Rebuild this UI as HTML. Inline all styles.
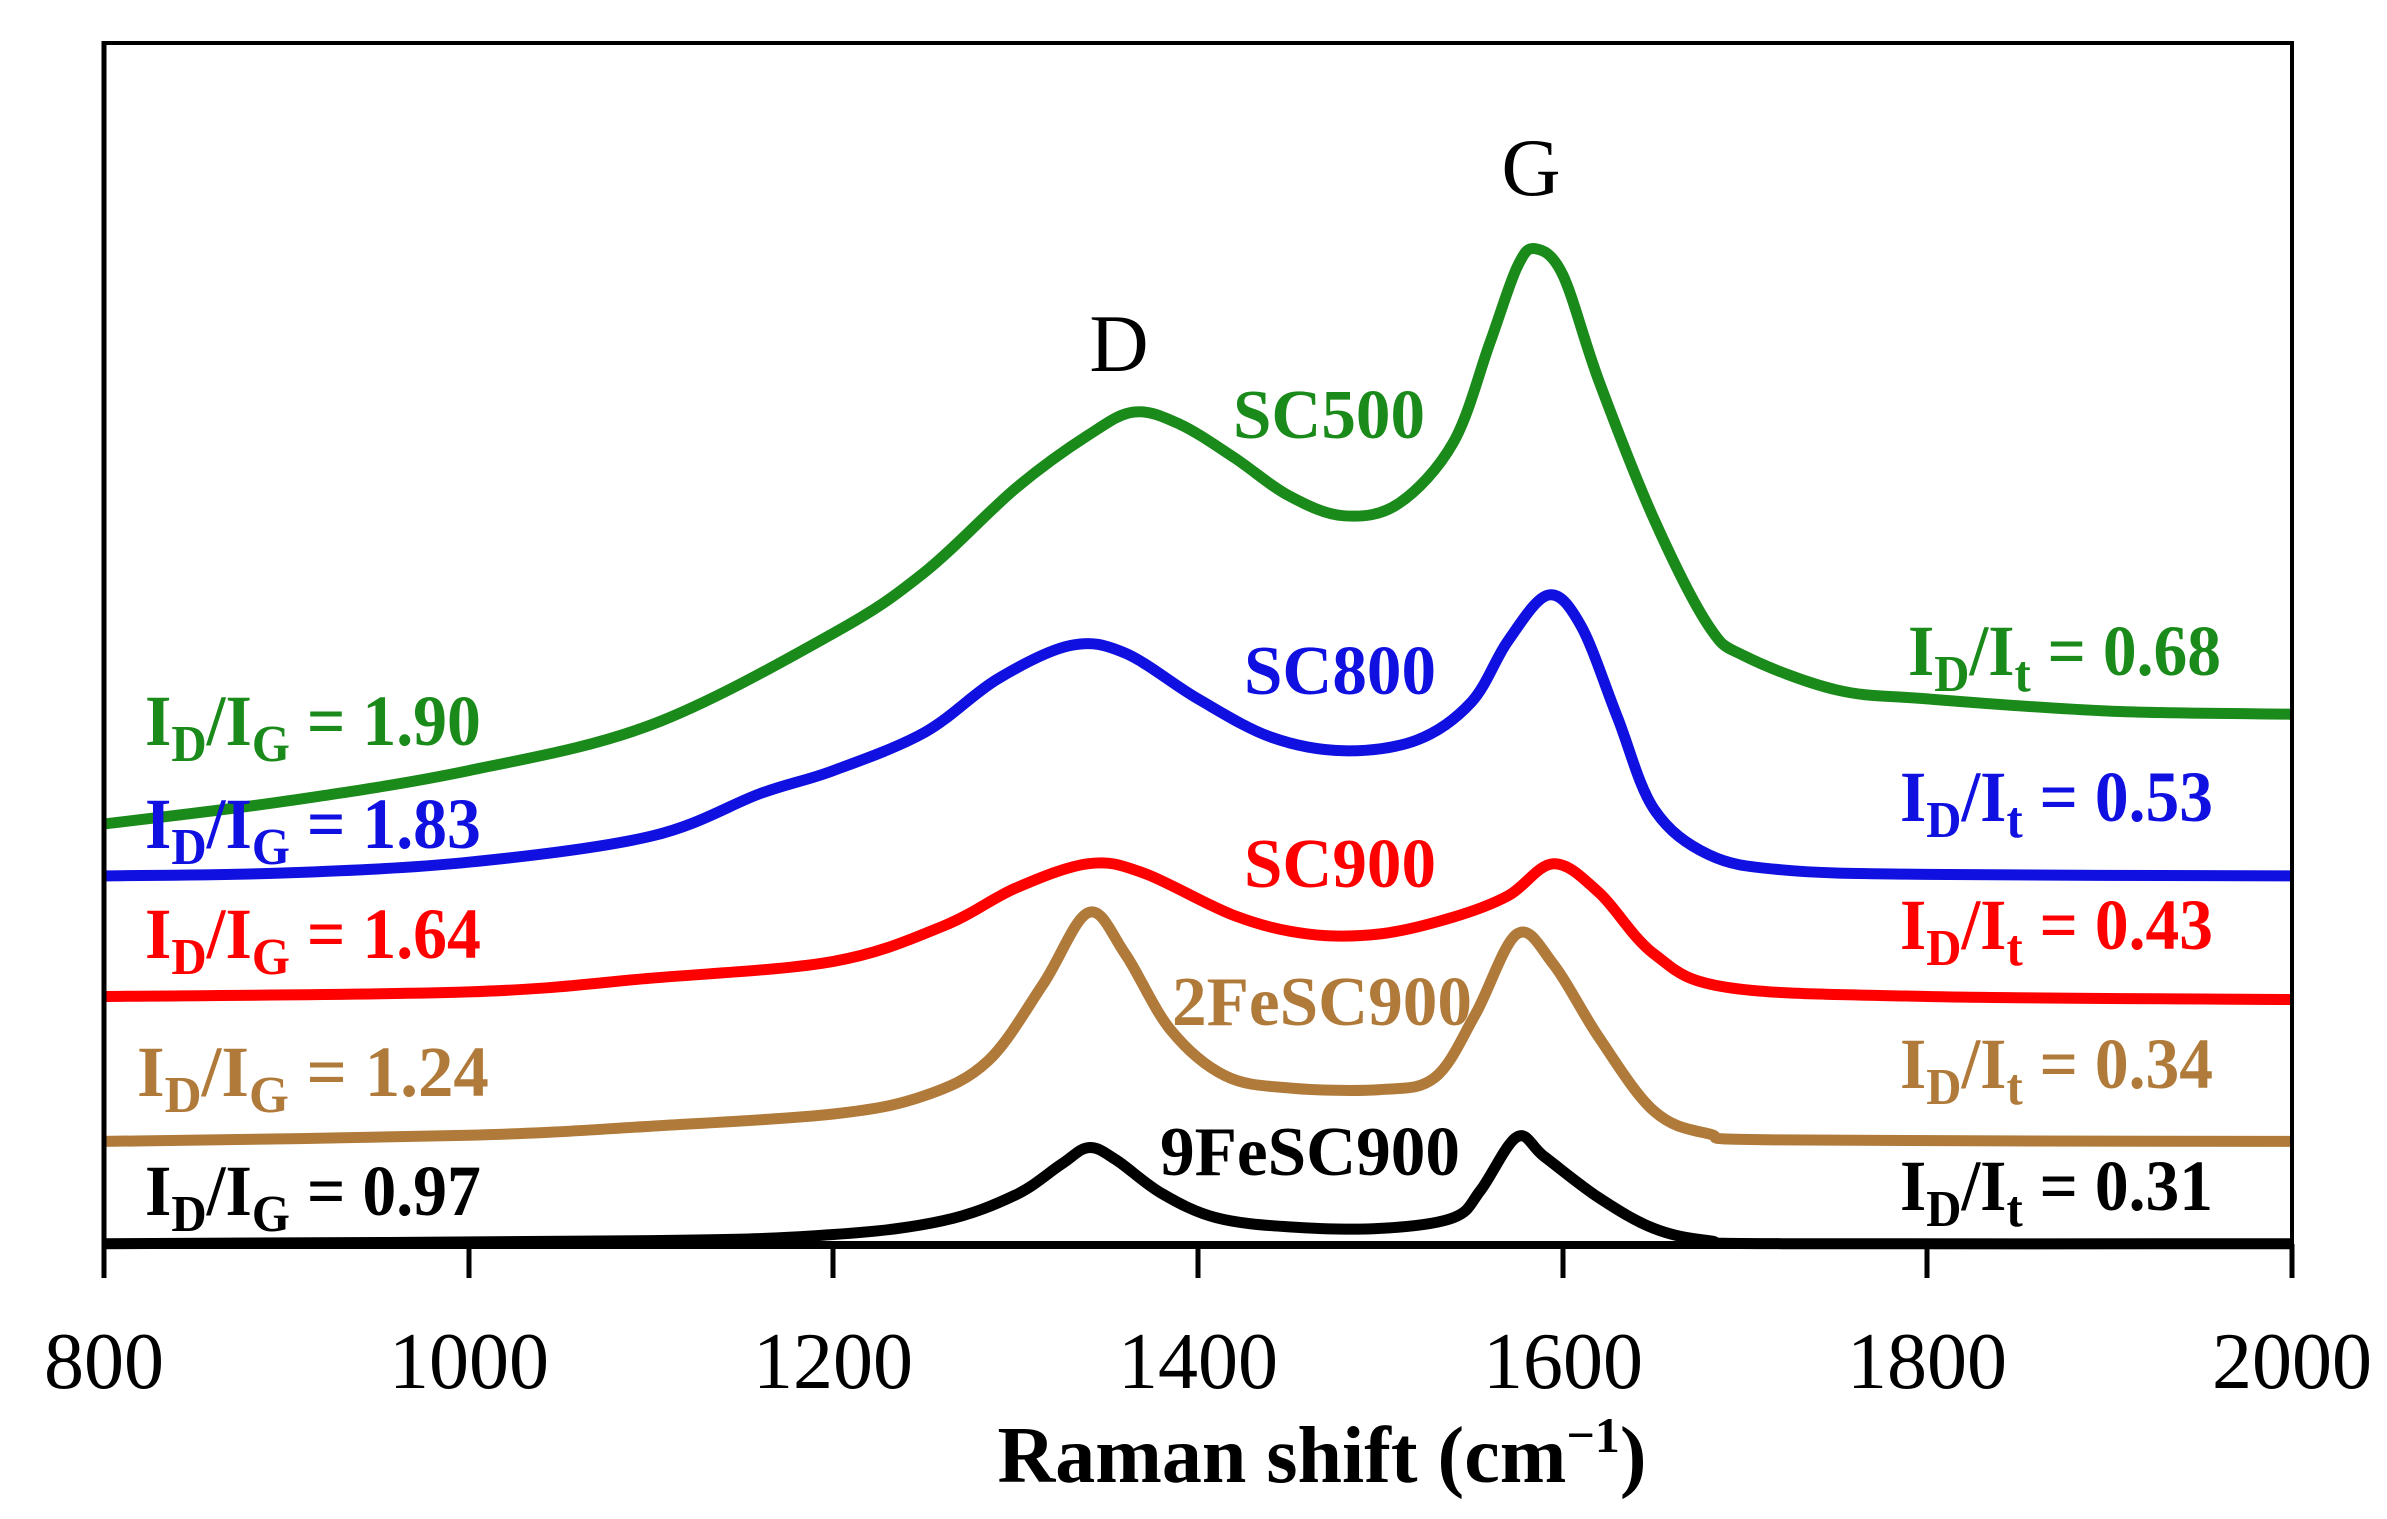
<!DOCTYPE html>
<html><head><meta charset="utf-8"><style>
html,body{margin:0;padding:0;background:#fff;}
svg{display:block;}
text{font-family:"Liberation Serif",serif;}
.b{font-weight:bold;}
</style></head><body>
<svg id="s" width="2387" height="1519" viewBox="0 0 2387 1519" xmlns="http://www.w3.org/2000/svg">
<rect x="0" y="0" width="2387" height="1519" fill="#fff"/>
<g id="curves"></g>
<path d="M104,43 H2292 V1244" fill="none" stroke="#000" stroke-width="4"/>
<line x1="104" y1="41" x2="104" y2="1278" stroke="#000" stroke-width="5"/>
<line x1="102" y1="1245" x2="2294" y2="1245" stroke="#000" stroke-width="8"/>
<g stroke="#000" stroke-width="5">
<line x1="104" y1="1244" x2="104" y2="1278"/>
<line x1="469" y1="1244" x2="469" y2="1278"/>
<line x1="833" y1="1244" x2="833" y2="1278"/>
<line x1="1198" y1="1244" x2="1198" y2="1278"/>
<line x1="1563" y1="1244" x2="1563" y2="1278"/>
<line x1="1927" y1="1244" x2="1927" y2="1278"/>
<line x1="2292" y1="1244" x2="2292" y2="1278"/>
</g>
<g font-size="80" text-anchor="middle" fill="#000">
<text x="104" y="1388">800</text>
<text x="469" y="1388">1000</text>
<text x="833" y="1388">1200</text>
<text x="1198" y="1388">1400</text>
<text x="1563" y="1388">1600</text>
<text x="1927" y="1388">1800</text>
<text x="2292" y="1388">2000</text>
</g>
<text class="b" x="1322" y="1482" font-size="80" text-anchor="middle">Raman shift (cm<tspan font-size="50" dy="-30">−1</tspan><tspan dy="30">)</tspan></text>
<text x="1119" y="371" font-size="82" text-anchor="middle">D</text>
<text x="1531" y="195" font-size="82" text-anchor="middle">G</text>
<g class="b" font-size="70">
<text x="1233" y="438" fill="#1a8a1a" textLength="192" lengthAdjust="spacingAndGlyphs">SC500</text>
<text x="1244" y="694" fill="#1010e0" textLength="192" lengthAdjust="spacingAndGlyphs">SC800</text>
<text x="1244" y="887" fill="#ff0000" textLength="192" lengthAdjust="spacingAndGlyphs">SC900</text>
<text x="1172" y="1025" fill="#b07a3a" textLength="300" lengthAdjust="spacingAndGlyphs">2FeSC900</text>
<text x="1160" y="1175" fill="#000" textLength="300" lengthAdjust="spacingAndGlyphs">9FeSC900</text>
</g>
<g id="ratios" class="b" font-size="72"></g>
</svg>
<script>
var NS="http://www.w3.org/2000/svg";
function X(w){return 104+(w-800)*2188/1200;}
function Y(p){return p*1.526;}
function path(pts){
 var P=pts.map(function(a){return [X(a[0]),Y(a[1])];});
 var d="M"+P[0][0].toFixed(1)+","+P[0][1].toFixed(1);
 for(var i=0;i<P.length-1;i++){
  var p0=P[i-1]||P[i],p1=P[i],p2=P[i+1],p3=P[i+2]||P[i+1];
  var c1=[p1[0]+(p2[0]-p0[0])/6,p1[1]+(p2[1]-p0[1])/6];
  var c2=[p2[0]-(p3[0]-p1[0])/6,p2[1]-(p3[1]-p1[1])/6];
  d+=" C"+c1[0].toFixed(1)+","+c1[1].toFixed(1)+" "+c2[0].toFixed(1)+","+c2[1].toFixed(1)+" "+p2[0].toFixed(1)+","+p2[1].toFixed(1);
 }
 return d;
}
var series=[
 ["#000",[[800,815],[1100,813],[1200,809],[1260,800],[1300,783],[1325,763],[1340,752],[1355,760],[1380,782],[1410,798],[1450,804],[1500,805],[1540,798],[1555,780],[1575,745],[1590,758],[1620,785],[1650,805],[1680,813],[1720,815],[2000,815]]],
 ["#b07a3a",[[800,748],[1000,744],[1100,738],[1200,730],[1250,718],[1285,695],[1315,645],[1340,598],[1360,625],[1385,675],[1415,705],[1450,713],[1500,714],[1530,706],[1552,665],[1575,612],[1595,632],[1620,680],[1650,728],[1680,743],[1720,747],[2000,748]]],
 ["#ff0000",[[800,653],[1000,650],[1100,641],[1200,630],[1260,607],[1300,582],[1340,566],[1370,572],[1420,600],[1460,612],[1500,612],[1540,601],[1570,587],[1595,566],[1620,585],[1650,625],[1690,647],[1800,653],[2000,655]]],
 ["#1010e0",[[800,574],[900,572],[1000,565],[1100,548],[1160,520],[1200,505],[1250,480],[1290,445],[1330,423],[1360,428],[1400,458],[1440,483],[1480,492],[1520,485],[1550,460],[1570,420],[1592,390],[1610,410],[1630,470],[1650,530],[1680,560],[1720,570],[1800,573],[2000,574]]],
 ["#1a8a1a",[[800,540],[900,525],[1000,505],[1100,475],[1200,415],[1250,375],[1300,320],[1340,285],[1365,270],[1390,278],[1420,300],[1450,325],[1480,338],[1510,330],[1540,290],[1560,225],[1575,175],[1585,163],[1600,180],[1620,250],[1650,340],[1680,410],[1700,430],[1750,452],[1800,458],[1900,466],[2000,468]]]
];
var g=document.getElementById("curves");
series.forEach(function(s){
 var p=document.createElementNS(NS,"path");
 p.setAttribute("d",path(s[1]));p.setAttribute("fill","none");
 p.setAttribute("stroke",s[0]);p.setAttribute("stroke-width","11");
 p.setAttribute("stroke-linejoin","round");
 g.appendChild(p);
});
var r=document.getElementById("ratios");
var labs=[
 [145,745,"#1a8a1a","G","1.90",336],[145,848,"#1010e0","G","1.83",336],[145,958,"#ff0000","G","1.64",336],[137,1096,"#b07a3a","G","1.24",352],[145,1215,"#000","G","0.97",336],
 [1908,675,"#1a8a1a","t","0.68",313],[1900,821,"#1010e0","t","0.53",313],[1900,949,"#ff0000","t","0.43",313],[1900,1088,"#b07a3a","t","0.34",313],[1900,1210,"#000","t","0.31",313]
];
labs.forEach(function(l){
 var t=document.createElementNS(NS,"text");
 t.setAttribute("x",l[0]);t.setAttribute("y",l[1]);t.setAttribute("fill",l[2]);
 t.innerHTML='I<tspan font-size="52" dy="16">D</tspan><tspan dy="-16">/I</tspan><tspan font-size="52" dy="16">'+l[3]+'</tspan><tspan dy="-16"> = '+l[4]+'</tspan>';
 r.appendChild(t);
 try{var w=t.getComputedTextLength();if(w>0){var sc=l[5]/w;t.setAttribute("transform","translate("+l[0]+","+l[1]+") scale("+sc+",1) translate("+(-l[0])+","+(-l[1])+")");}}catch(e){}
});
</script>
</body></html>
